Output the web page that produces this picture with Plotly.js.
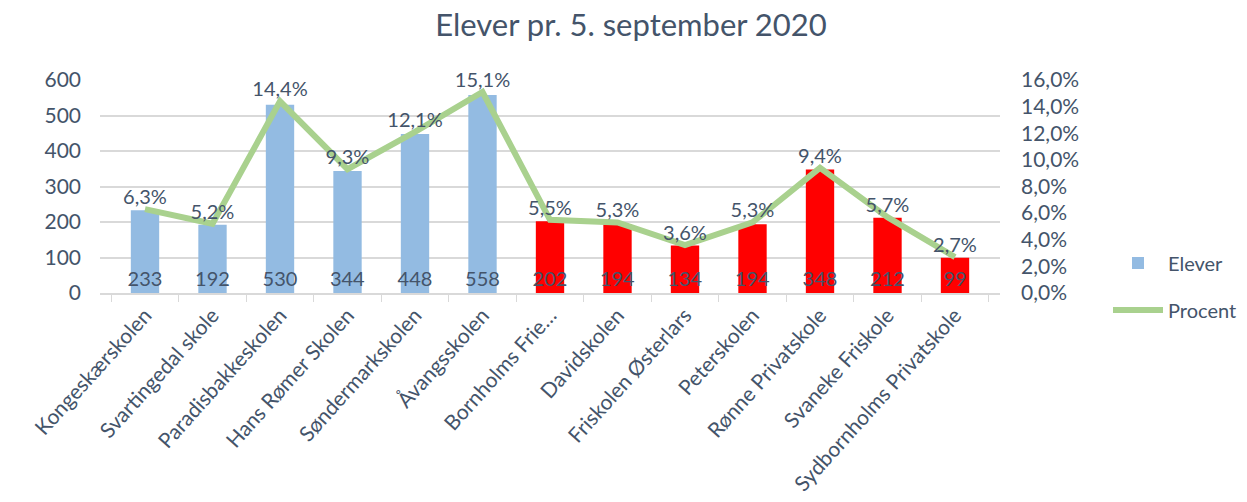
<!DOCTYPE html>
<html>
<head>
<meta charset="utf-8">
<script src="https://cdn.plot.ly/plotly-3.0.1.min.js"></script>
<style>
    html, body { margin: 0; padding: 0; background: #ffffff; }
    #chart { width: 1247px; height: 502px; }
</style>
</head>
<body>
<div id="chart"></div>
<script>
// Skoler og elevtal
const schools = [
    'Kongeskærskolen', 'Svartingedal skole', 'Paradisbakkeskolen', 'Hans Rømer Skolen',
    'Søndermarkskolen', 'Åvangsskolen', 'Bornholms Frie…', 'Davidskolen',
    'Friskolen Østerlars', 'Peterskolen', 'Rønne Privatskole', 'Svaneke Friskole',
    'Sydbornholms Privatskole'
];
const elever = [233, 192, 530, 344, 448, 558, 202, 194, 134, 194, 348, 212, 99];
const procent = [0.063, 0.052, 0.144, 0.093, 0.121, 0.151, 0.055, 0.053, 0.036, 0.053, 0.094, 0.057, 0.027];
// kommunale skoler (blå) / frie skoler (røde)
const kommunal = [true, true, true, true, true, true, false, false, false, false, false, false, false];

const textColor = '#44546a';
const gridColor = '#d9d9d9';

const barTrace = {
    x: schools,
    y: elever,
    type: 'bar',
    name: 'Elever',
    legendgroup: 'a',
    marker: {
        color: kommunal.map(k => k ? '#93bbe2' : '#ff0000')
    },
    text: elever.map(String),
    textposition: 'inside',
    insidetextanchor: 'start',
    constraintext: 'none',
    textangle: 0,
    textfont: { size: 20, color: textColor },
    hoverinfo: 'x+y'
};

const lineTrace = {
    x: schools,
    y: procent,
    type: 'scatter',
    mode: 'lines+text',
    name: 'Procent',
    legendgroup: 'b',
    yaxis: 'y2',
    line: { color: '#a9d18e', width: 6 },
    texttemplate: '%{y:.1%}',
    textposition: 'top center',
    textfont: { size: 20, color: textColor },
    cliponaxis: false
};

const layout = {
    width: 1247,
    height: 502,
    separators: ',.',
    font: { family: 'Lato, "Open Sans", sans-serif', color: textColor, size: 20 },
    title: {
        text: 'Elever pr. 5. september 2020',
        font: { size: 31, color: textColor },
        x: 0.506,
        xanchor: 'center',
        y: 0.95,
        yanchor: 'middle'
    },
    margin: { l: 100, r: 247, t: 80, b: 209, autoexpand: false },
    bargap: 0.58,
    showlegend: true,
    legend: {
        x: 1.12,
        xanchor: 'left',
        y: 0.03,
        yanchor: 'middle',
        traceorder: 'grouped',
        tracegroupgap: 18,
        itemwidth: 50,
        font: { size: 20, color: textColor }
    },
    xaxis: {
        type: 'category',
        tickangle: -48,
        tickfont: { size: 21, color: textColor },
        showline: true,
        linecolor: gridColor,
        linewidth: 1.5,
        ticks: 'outside',
        tickson: 'boundaries',
        ticklen: 7,
        tickcolor: gridColor,
        showgrid: false
    },
    yaxis: {
        range: [0, 600],
        dtick: 100,
        showgrid: true,
        gridcolor: gridColor,
        gridwidth: 1.5,
        zeroline: false,
        ticks: '',
        ticklabelstandoff: 18,
        tickfont: { size: 21, color: textColor }
    },
    yaxis2: {
        overlaying: 'y',
        side: 'right',
        range: [0, 0.16],
        dtick: 0.02,
        tickformat: '.1%',
        showgrid: false,
        zeroline: false,
        ticks: '',
        ticklabelstandoff: 20,
        tickfont: { size: 21, color: textColor }
    },
    plot_bgcolor: '#ffffff',
    paper_bgcolor: '#ffffff'
};

Plotly.newPlot('chart', [barTrace, lineTrace], layout, { displayModeBar: false, responsive: false });
</script>
</body>
</html>
